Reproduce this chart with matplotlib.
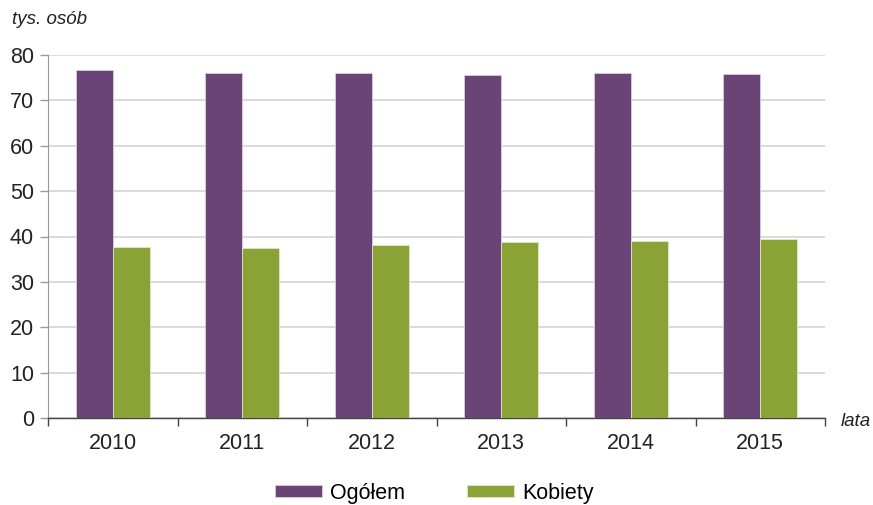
import matplotlib
matplotlib.use("Agg")
import matplotlib.pyplot as plt
import numpy as np

years = ["2010", "2011", "2012", "2013", "2014", "2015"]
ogolem = [76.7, 76.0, 76.0, 75.5, 76.1, 75.8]
kobiety = [37.7, 37.4, 38.1, 38.8, 38.9, 39.4]

plt.rcParams['font.family'] = ['Liberation Sans', 'DejaVu Sans']

fig = plt.figure(figsize=(8.73, 5.05), dpi=100)
ax = fig.add_axes([48/873, 87/505, (825-48)/873, (418-55)/505])

x = np.arange(len(years))
w = 0.286
purple = "#6a4476"
green = "#8aa236"
ax.bar(x - w/2, ogolem, w, color=purple, edgecolor="#d8cce0", linewidth=0.6, label="Ogółem", zorder=3)
ax.bar(x + w/2, kobiety, w, color=green, edgecolor="#dfe8c8", linewidth=0.6, label="Kobiety", zorder=3)

ax.set_xlim(-0.5, len(years) - 0.5)
ax.set_ylim(0, 80)
ax.set_yticks(range(0, 81, 10))
ax.yaxis.grid(True, color="#d4d4d4", linewidth=1.2, zorder=0)
ax.set_axisbelow(True)

ax.set_xticks(x)
ax.set_xticklabels(years)
ax.set_xticks(np.arange(-0.5, len(years)), minor=True)
ax.tick_params(axis='x', which='major', length=0, labelsize=15.5, colors="#222222", pad=11)
ax.tick_params(axis='x', which='minor', length=6, width=1, color="#444444", direction='out')
ax.tick_params(axis='y', length=6, width=1, color="#999999", labelsize=15.5, labelcolor="#222222", pad=4)

for s in ['top', 'right']:
    ax.spines[s].set_visible(False)
ax.spines['left'].set_color("#999999")
ax.spines['bottom'].set_color("#444444")
ax.spines['bottom'].set_linewidth(1.0)

fig.text(12/873, 1 - 20/505, "tys. osób", fontsize=13.5, style='italic', color="#222222", va='center', ha='left')
fig.text(841/873, 1 - 422/505, "lata", fontsize=13.5, style='italic', color="#222222", va='center', ha='left')

leg = fig.legend(loc='center', bbox_to_anchor=(434/873, 1 - 493/505), ncol=2, frameon=False,
                 fontsize=15.5, handlelength=2.2, handleheight=0.45, columnspacing=2.9, handletextpad=0.35)

fig.savefig("out.png", dpi=100)
